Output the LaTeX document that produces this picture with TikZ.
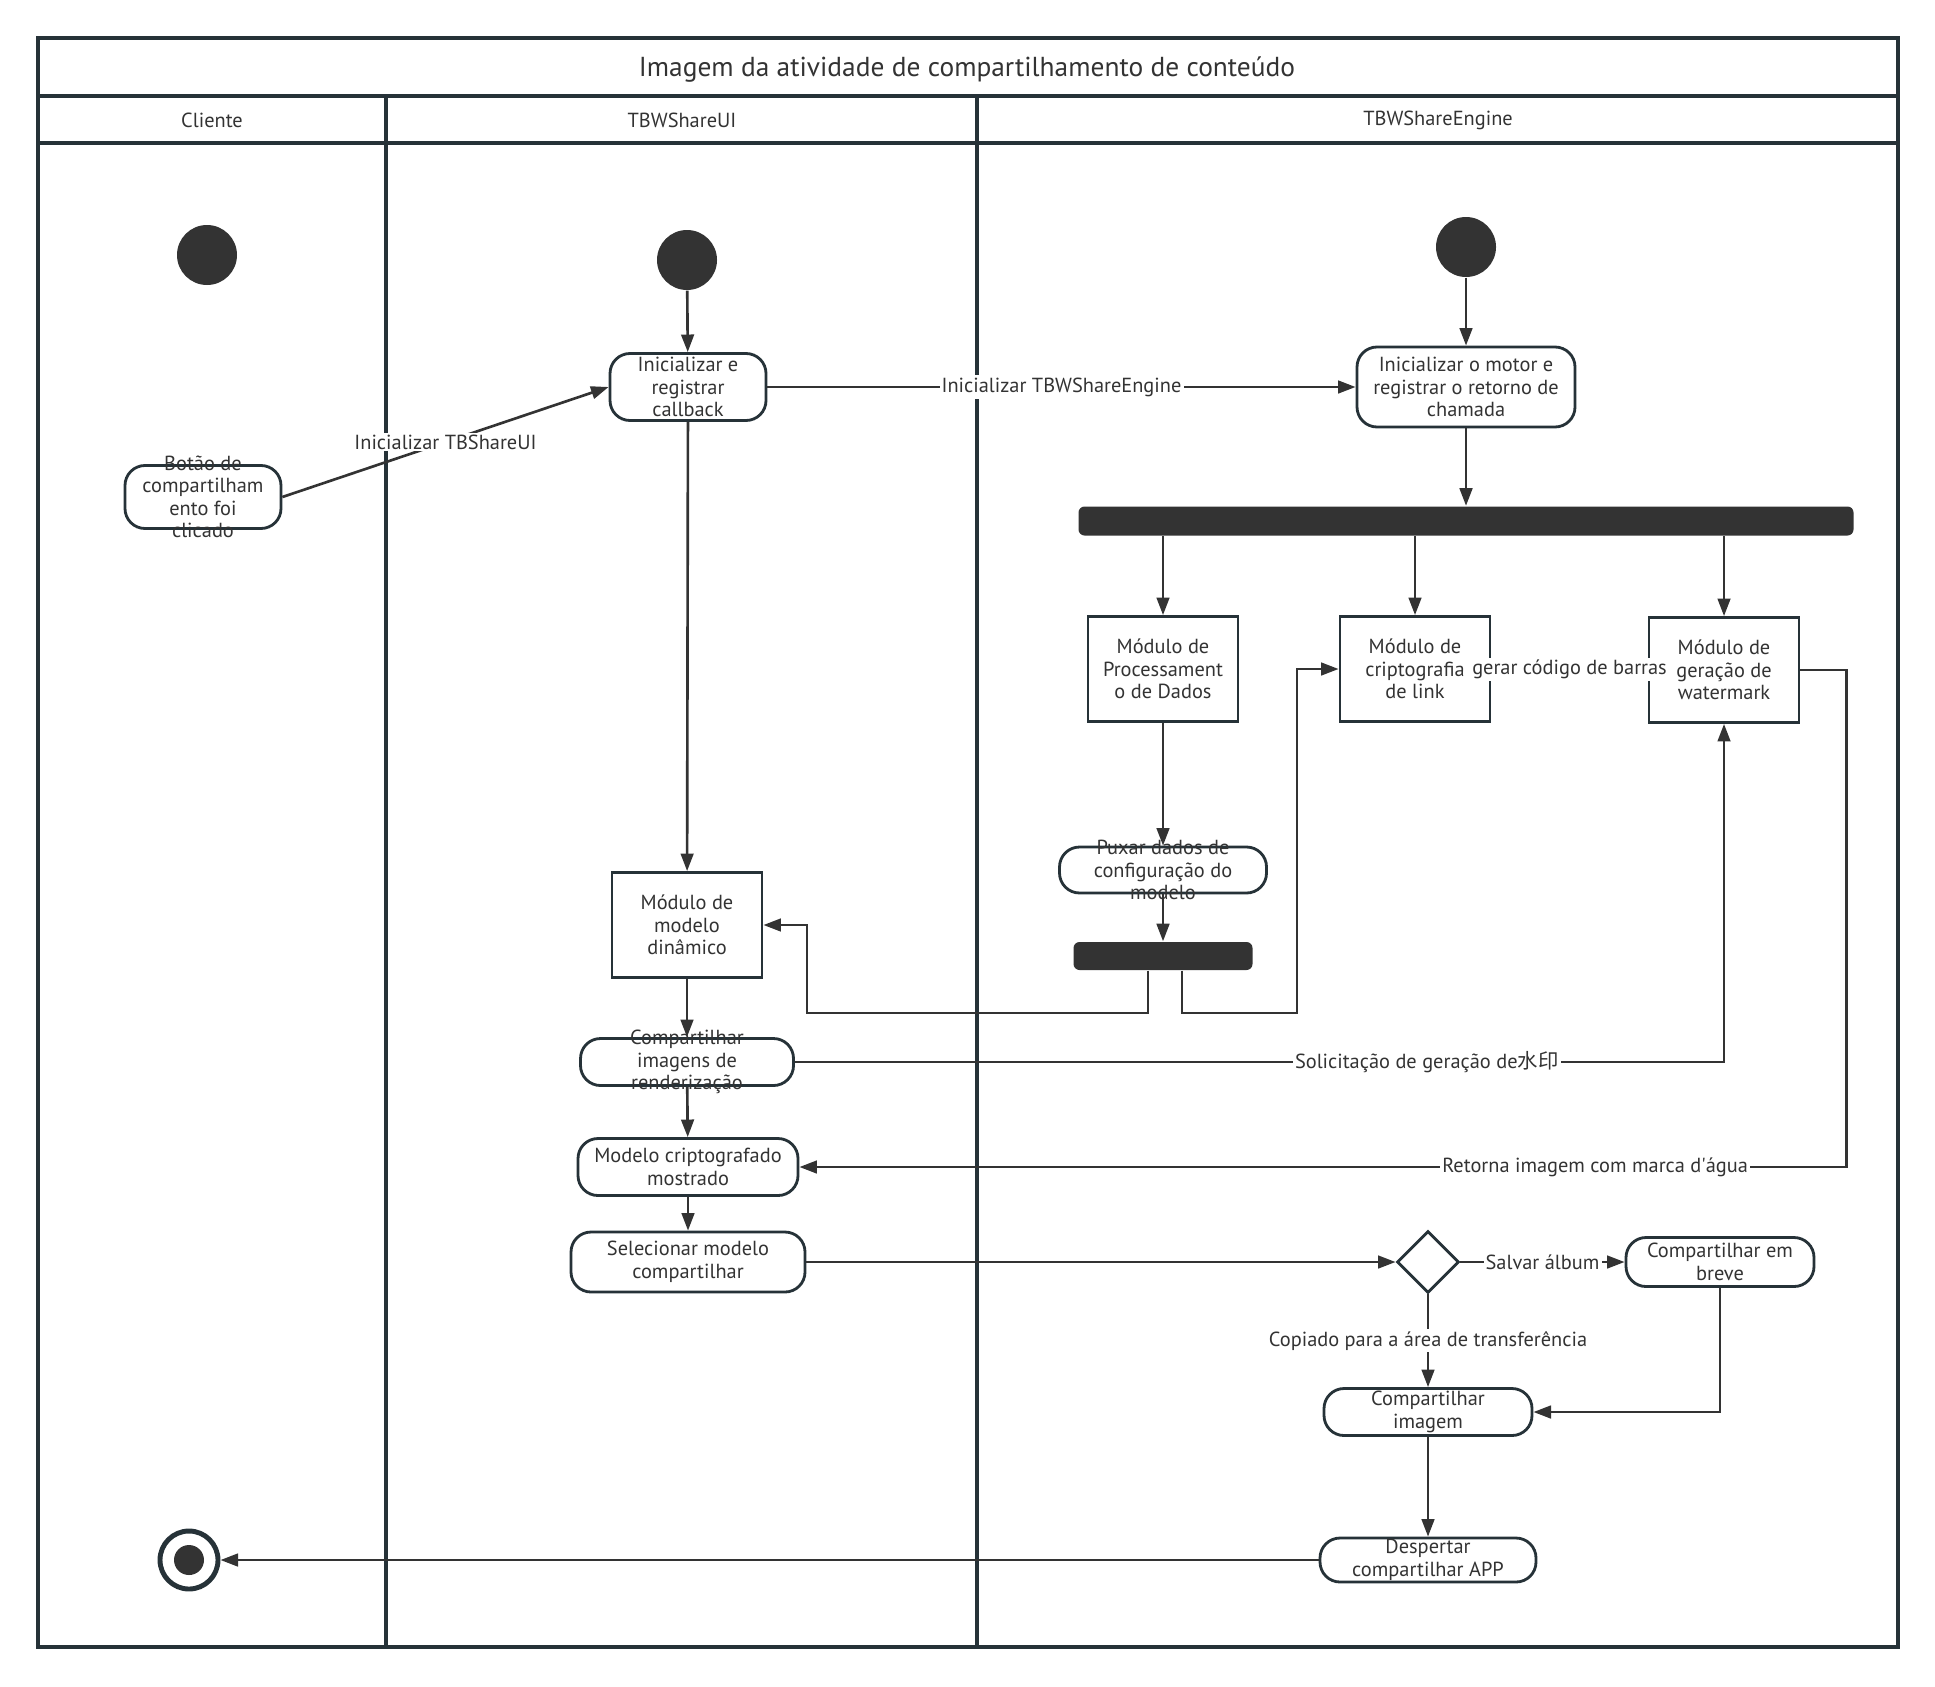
\documentclass[tikz,border=0pt]{standalone}
\usepackage{fontspec}
\setmainfont{PT Sans}
\newfontfamily\cjk{Noto Sans CJK SC}
\usetikzlibrary{arrows.meta,calc,positioning,shapes.geometric}
\definecolor{ink}{HTML}{333333}
\definecolor{edge}{HTML}{263238}

\begin{document}
\begin{tikzpicture}[>={Triangle[length=5pt,width=3.6pt]},font=\fontsize{5.8}{6.4}\selectfont,text=ink,
  lane/.style={draw=edge,line width=0.9pt},
  act/.style={draw=edge,line width=0.8pt,rounded corners=2mm,fill=white,align=center,inner sep=0pt},
  modbox/.style={draw=edge,line width=0.8pt,fill=white,align=center,inner sep=0pt,minimum width=1.5cm,minimum height=1.05cm},
  startdot/.style={circle,fill=ink,minimum size=0.6cm,inner sep=0pt},
  bar/.style={fill=ink,rounded corners=0.6mm,inner sep=0pt},
  arr/.style={->,draw=ink,line width=0.75pt},
  lbl/.style={fill=white,inner sep=0.6pt}]
\useasboundingbox (0,0) rectangle (19.35,-16.86);
% swimlanes
\draw[lane] (0.38,-0.38) rectangle (18.98,-16.47);
\draw[lane] (0.38,-0.96) -- (18.98,-0.96);
\draw[lane] (0.38,-1.43) -- (18.98,-1.43);
\draw[lane] (3.86,-0.96) -- (3.86,-16.47);
\draw[lane] (9.77,-0.96) -- (9.77,-16.47);
\node[font=\fontsize{7.8}{9}\selectfont] (title) at (9.67,-0.70) {Imagem da atividade de compartilhamento de conteúdo};
\node (hcli) at (2.12,-1.20) {Cliente};
\node (hui) at (6.82,-1.20) {TBWShareUI};
\node (heng) at (14.38,-1.20) {TBWShareEngine};
% Cliente
\node[startdot] (start1) at (2.07,-2.55) {};
\node[act,minimum width=1.56cm,minimum height=0.63cm] (btn) at (2.03,-4.97) {};
\node[align=center] (btn-txt) at (btn) {Botão de\\compartilham\\ento foi\\clicado};
\node[circle,draw=edge,line width=1.4pt,minimum size=0.58cm,inner sep=0pt] (end) at (1.89,-15.60) {};
\fill[ink] (end.center) circle (0.15);
% TBWShareUI
\node[startdot] (start2) at (6.87,-2.60) {};
\node[act,minimum width=1.56cm,minimum height=0.67cm] (initui) at (6.88,-3.87) {Inicializar e\\registrar\\callback};
\node[modbox] (moddin) at (6.87,-9.25) {Módulo de\\modelo\\dinâmico};
\node[act,minimum width=2.13cm,minimum height=0.47cm] (shareimg) at (6.87,-10.62) {};
\node[align=center] (shareimg-txt) at (shareimg) {Compartilhar\\imagens de\\renderização};
\node[act,minimum width=2.20cm,minimum height=0.57cm] (modcrip) at (6.88,-11.67) {Modelo criptografado\\mostrado};
\node[act,minimum width=2.34cm,minimum height=0.60cm] (selec) at (6.88,-12.62) {Selecionar modelo\\compartilhar};
% TBWShareEngine
\node[startdot] (start3) at (14.66,-2.47) {};
\node[act,minimum width=2.18cm,minimum height=0.80cm] (initeng) at (14.66,-3.87) {Inicializar o motor e\\registrar o retorno de\\chamada};
\node[bar,minimum width=7.75cm,minimum height=0.29cm] (fork) at (14.66,-5.21) {};
\node[modbox] (procmod) at (11.63,-6.69) {Módulo de\\Processament\\o de Dados};
\node[modbox] (crypt) at (14.15,-6.69) {Módulo de\\criptografia\\de link};
\node[modbox] (water) at (17.24,-6.70) {Módulo de\\geração de\\watermark};
\node[act,minimum width=2.07cm,minimum height=0.46cm] (puxar) at (11.63,-8.70) {};
\node[align=center] (puxar-txt) at (puxar) {Puxar dados de\\configuração do\\modelo};
\node[bar,minimum width=1.79cm,minimum height=0.28cm] (join) at (11.63,-9.56) {};
\node[diamond,draw=edge,line width=0.8pt,fill=white,minimum size=0.62cm,inner sep=0pt] (choice) at (14.28,-12.62) {};
\node[act,minimum width=1.88cm,minimum height=0.49cm] (breve) at (17.20,-12.62) {Compartilhar em\\breve};
\node[act,minimum width=2.08cm,minimum height=0.47cm] (shareimg2) at (14.28,-14.12) {Compartilhar\\imagem};
\node[act,minimum width=2.16cm,minimum height=0.44cm] (wake) at (14.28,-15.60) {Despertar\\compartilhar APP};
% flows
\draw[arr] (btn.east) -- node[lbl] {Inicializar TBShareUI} (initui.west);
\draw[arr] (start2) -- (initui);
\draw[arr] (initui.east) -- node[lbl] {Inicializar TBWShareEngine} (initeng.west);
\draw[arr] (initui) -- (moddin);
\draw[arr] (start3) -- (initeng);
\draw[arr] (initeng) -- (fork);
\foreach \m in {procmod,crypt,water}
  \draw[arr] (\m.north |- fork.south) -- (\m.north);
\draw[arr] (procmod) -- (puxar);
\draw[arr] (puxar) -- (join);
\draw[arr] ([xshift=-1.5mm]join.south) |- (8.07,-10.13) |- (moddin.east);
\draw[arr] ([xshift=1.9mm]join.south) |- (12.97,-10.13) |- (crypt.west);
\draw[arr] (crypt.east) -- node[lbl] {gerar código de barras} (water.west);
\draw[arr] (moddin) -- (shareimg);
\draw[arr] (shareimg.east) -| node[lbl,pos=0.34] {Solicitação de geração de{\cjk 水印}} (water.south);
\draw[arr] (water.east) -- ++(0.46,0) |- node[lbl,pos=0.62] {Retorna imagem com marca d\textquotesingle água} (modcrip.east);
\draw[arr] (shareimg) -- (modcrip);
\draw[arr] (modcrip) -- (selec);
\draw[arr] (selec.east) -- (choice.west);
\draw[arr] (choice.east) -- node[lbl] {Salvar álbum} (breve.west);
\draw[arr] (choice.south) -- node[lbl] {Copiado para a área de transferência} (shareimg2.north);
\draw[arr] (breve.south) |- (shareimg2.east);
\draw[arr] (shareimg2) -- (wake);
\draw[arr] (wake.west) -- (end.east);
\end{tikzpicture}
\end{document}
